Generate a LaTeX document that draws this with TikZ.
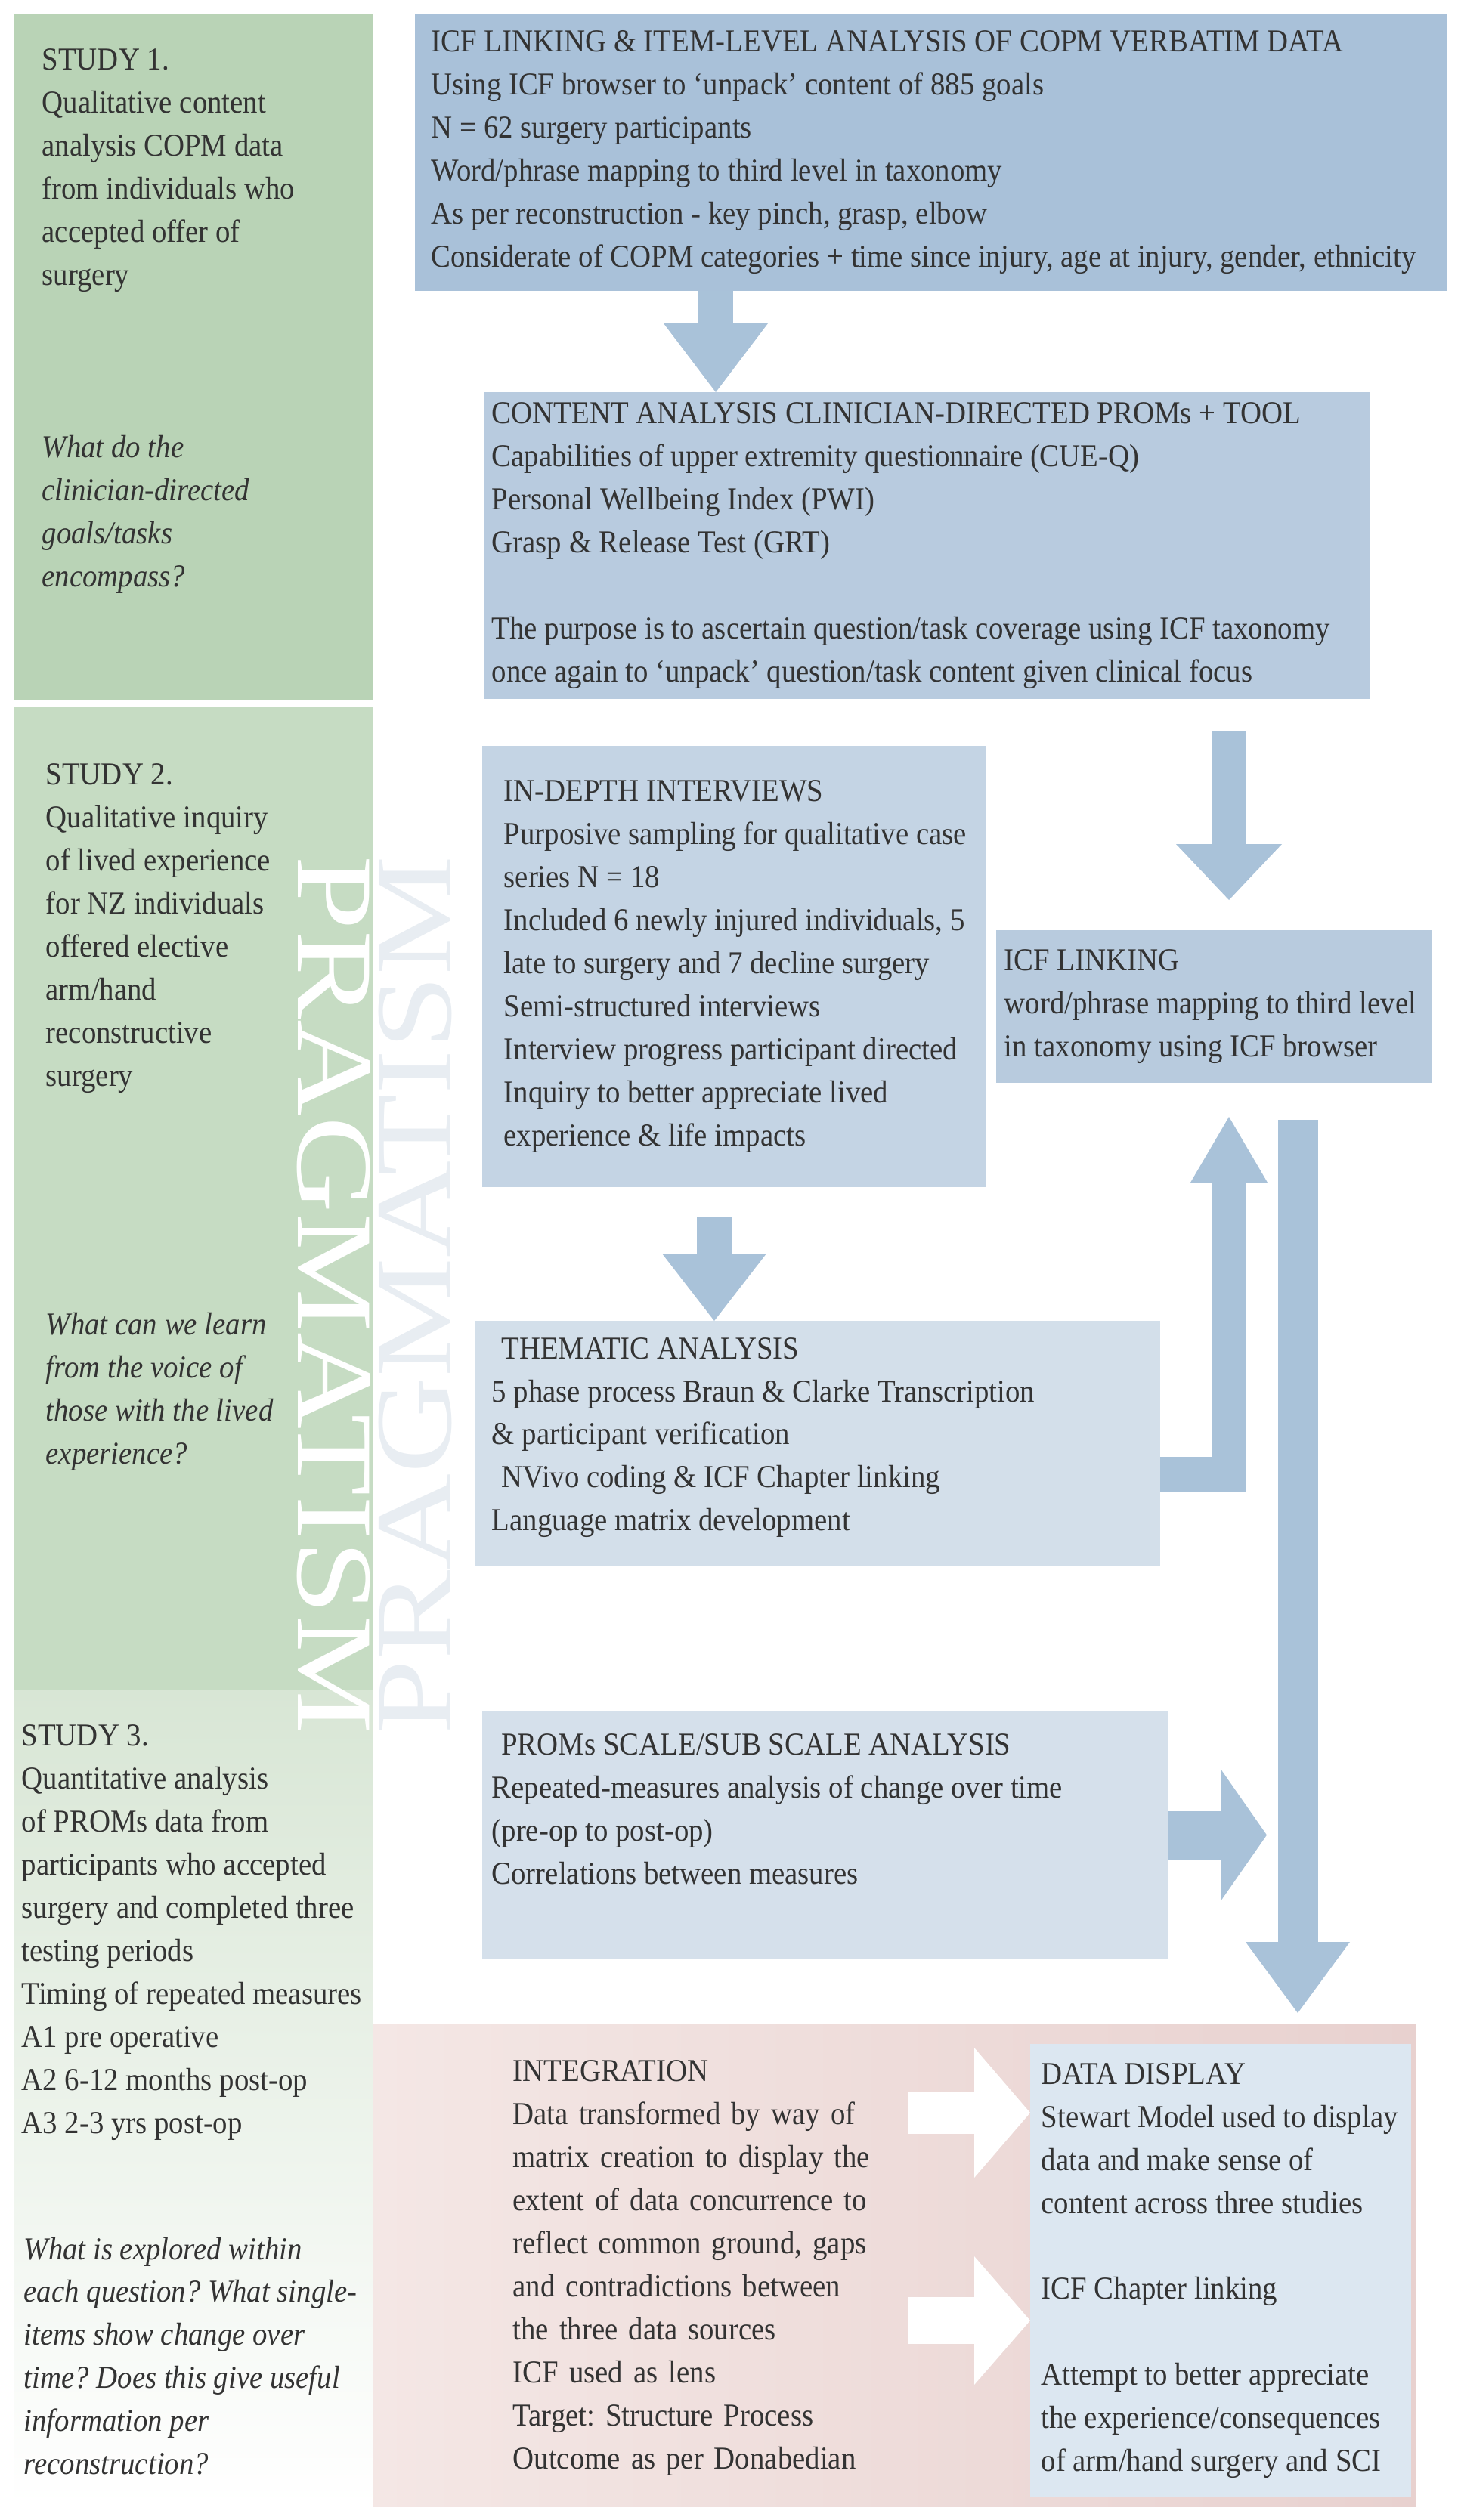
\documentclass[tikz,border=0pt]{standalone}
\usepackage{fontspec}
\setmainfont{Liberation Serif}[FakeStretch=0.92]
\newfontfamily\bannerfont{Liberation Serif}
\usetikzlibrary{arrows.meta,positioning,calc}
\frenchspacing

\definecolor{ink}{HTML}{333333}
\definecolor{sage}{HTML}{B9D3B6}
\definecolor{sagelight}{HTML}{C6DCC3}
\definecolor{mint}{HTML}{D8E6D5}
\definecolor{goalblue}{HTML}{A9C1D9}
\definecolor{toolblue}{HTML}{B8CBDF}
\definecolor{talkblue}{HTML}{C4D4E4}
\definecolor{linkblue}{HTML}{B8CBDE}
\definecolor{themeblue}{HTML}{D3DFEA}
\definecolor{scaleblue}{HTML}{D5E0EB}
\definecolor{showblue}{HTML}{DCE7F1}
\definecolor{flowblue}{HTML}{A9C2D9}
\definecolor{blushlight}{HTML}{F4E7E5}
\definecolor{blush}{HTML}{E8D1CF}
\definecolor{ghost}{HTML}{E8EDF2}

\newcommand{\bodytext}{\fontsize{12}{16.2}\selectfont}

\tikzset{
  pane/.style 2 args={anchor=north west,inner sep=0pt,outer sep=0pt,minimum width=#1,minimum height=#2},
  copy/.style={align=left,inner sep=0pt,text=ink,font=\bodytext},
  ask/.style={copy,font=\bodytext\itshape},
  flow/.style={draw=flowblue,line width=4.6mm},
  lift/.style={draw=white,line width=5.6mm}
}

\begin{document}
\begin{tikzpicture}[x=1mm,y=1mm]

\useasboundingbox (0,0) rectangle (193.3,-333.5);
\fill[white] (0,0) rectangle (193.3,-333.5);

% study columns and integration band
\fill[sage] (1.85,-1.8) rectangle (49.3,-92.7);
\fill[sagelight] (1.85,-93.6) rectangle (49.3,-223.7);
\fill[top color=mint,bottom color=white] (1.85,-223.7) rectangle (49.3,-331.7);
\fill[left color=blushlight,right color=blush] (49.3,-267.9) rectangle (187.3,-331.7);

\node[rotate=-90,inner sep=0pt,text=white,font=\bannerfont\fontsize{41}{41}\selectfont] (banner) at (44.1,-171.4) {\scalebox{1.23}[1]{PRAGMATISM}};
\node[rotate=90,inner sep=0pt,text=ghost,font=\bannerfont\fontsize{41}{41}\selectfont] (echo) at (54.9,-171.4) {\scalebox{1.23}[1]{PRAGMATISM}};

% boxes
\node[pane={136.5mm}{36.7mm},fill=goalblue] (goals) at (54.9,-1.8) {};
\node[pane={117.2mm}{40.6mm},fill=toolblue] (tools) at (64.0,-51.9) {};
\node[pane={66.6mm}{58.4mm},fill=talkblue] (interviews) at (63.8,-98.7) {};
\node[pane={57.7mm}{20.2mm},fill=linkblue] (linking) at (131.8,-123.1) {};
\node[pane={90.6mm}{32.5mm},fill=themeblue] (thematic) at (62.9,-174.8) {};
\node[pane={90.8mm}{32.7mm},fill=scaleblue] (proms) at (63.8,-226.5) {};
\node[pane={50.4mm}{60.0mm},fill=showblue] (display) at (136.3,-270.5) {};

% left column
\node[copy,anchor=north west] (study1) at (5.5,-6.4) {STUDY 1.\\Qualitative content\\analysis COPM data\\from individuals who\\accepted offer of\\surgery};
\node[ask,anchor=north west] (ask1) at (5.5,-57.6) {What do the\\clinician-directed\\goals/tasks\\encompass?};
\node[copy,anchor=north west] (study2) at (6.0,-101.0) {STUDY 2.\\Qualitative inquiry\\of lived experience\\for NZ individuals\\offered elective\\arm/hand\\reconstructive\\surgery};
\node[ask,anchor=north west] (ask2) at (6.0,-173.7) {What can we learn\\from the voice of\\those with the lived\\experience?};
\node[copy,anchor=north west] (study3) at (2.8,-228.2) {STUDY 3.\\Quantitative analysis\\of PROMs data from\\participants who accepted\\surgery and completed three\\testing periods\\Timing of repeated measures\\A1 pre operative\\A2 6-12 months post-op\\A3 2-3 yrs post-op};
\node[ask,anchor=north west] (ask3) at (3.1,-296.0) {What is explored within\\each question? What single-\\items show change over\\time? Does this give useful\\information per\\reconstruction?};

% box texts
\node[copy,anchor=west] (goalstext) at ([xshift=2.1mm]goals.west) {ICF LINKING \& ITEM-LEVEL ANALYSIS OF COPM VERBATIM DATA\\Using ICF browser to `unpack' content of 885 goals\\N = 62 surgery participants\\Word/phrase mapping to third level in taxonomy\\As per reconstruction - key pinch, grasp, elbow\\Considerate of COPM categories + time since injury, age at injury, gender, ethnicity};
\node[copy,anchor=west] (toolstext) at ([xshift=1.0mm]tools.west) {CONTENT ANALYSIS CLINICIAN-DIRECTED PROMs + TOOL\\Capabilities of upper extremity questionnaire (CUE-Q)\\Personal Wellbeing Index (PWI)\\Grasp \& Release Test (GRT)\\~\\The purpose is to ascertain question/task coverage using ICF taxonomy\\once again to `unpack' question/task content given clinical focus};
\node[copy,anchor=west] (interviewstext) at ([xshift=2.8mm]interviews.west) {IN-DEPTH INTERVIEWS\\Purposive sampling for qualitative case\\series N = 18\\Included 6 newly injured individuals, 5\\late to surgery and 7 decline surgery\\Semi-structured interviews\\Interview progress participant directed\\Inquiry to better appreciate lived\\experience \& life impacts};
\node[copy,anchor=west] (linkingtext) at ([xshift=1.0mm]linking.west) {ICF LINKING\\word/phrase mapping to third level\\in taxonomy using ICF browser};
\node[copy,anchor=west] (thematictext) at ([xshift=2.1mm,yshift=0.8mm]thematic.west) {\hspace*{0.3em}THEMATIC ANALYSIS\\5 phase process Braun \& Clarke Transcription\\\& participant verification\\\hspace*{0.3em}NVivo coding \& ICF Chapter linking\\Language matrix development};
\node[copy,anchor=west] (promstext) at ([xshift=1.2mm,yshift=3.4mm]proms.west) {\hspace*{0.3em}PROMs SCALE/SUB SCALE ANALYSIS\\Repeated-measures analysis of change over time\\(pre-op to post-op)\\Correlations between measures};
\node[copy,anchor=north west,text width=52.3mm] (integ) at (67.8,-272.6) {INTEGRATION\\Data transformed by way of\\matrix creation to display the\\extent of data concurrence to\\reflect common ground, gaps\\and contradictions between\\the three data sources\\ICF used as lens\\Target: Structure Process\\Outcome as per Donabedian};
\node[copy,anchor=west] (displaytext) at ([xshift=1.4mm]display.west) {DATA DISPLAY\\Stewart Model used to display\\data and make sense of\\content across three studies\\~\\ICF Chapter linking\\~\\Attempt to better appreciate\\the experience/consequences\\of arm/hand surgery and SCI};

% arrows
\coordinate (gate1) at ([xshift=30.7mm]tools.north west);
\coordinate (gate2) at ([xshift=30.8mm]linking.north west);
\coordinate (gate3) at ([xshift=30.7mm]interviews.south west);
\coordinate (gate4) at ([xshift=30.8mm]linking.south west);
\coordinate (drop) at ([xshift=39.9mm]linking.south west);

\draw[flow,-{Triangle[length=9.1mm,width=13.8mm,line width=0pt 0 0]}] (goals.south -| gate1) -- (gate1);
\draw[flow,shorten <=4.3mm,shorten >=4mm,-{Triangle[length=7.4mm,width=14mm,line width=0pt 0 0]}] (tools.south -| gate2) -- (gate2);
\draw[flow,shorten <=3.9mm,-{Triangle[length=8.9mm,width=13.8mm,line width=0pt 0 0]}] (gate3) -- (thematic.north -| gate3);
\draw[flow,shorten >=4.5mm,-{Triangle[length=8.7mm,width=10.2mm,line width=0pt 0 0]}] ([yshift=-4mm]thematic.east) -| (gate4);
\draw[flow,line width=5.3mm,shorten <=4.9mm,shorten >=4.1mm,-{Triangle[length=9.4mm,width=13.8mm,line width=0pt 0 0]}] (drop) -- (display.north -| drop);
\draw[flow,line width=6.4mm,shorten >=4.1mm,-{Triangle[length=6mm,width=17.2mm,line width=0pt 0 0]}] (proms.east) -- (proms.east -| drop);

\draw[lift,-{Triangle[length=7.4mm,width=17.2mm,line width=0pt 0 0]}] ([yshift=20.9mm]display.west -| integ.east) -- ([yshift=20.9mm]display.west);
\draw[lift,line width=6.2mm,-{Triangle[length=7.4mm,width=17mm,line width=0pt 0 0]}] ([yshift=-6.6mm]display.west -| integ.east) -- ([yshift=-6.6mm]display.west);

\end{tikzpicture}
\end{document}
